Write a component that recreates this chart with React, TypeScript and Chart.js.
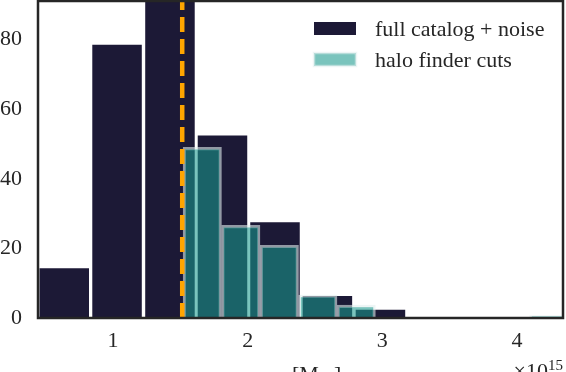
import React, { useEffect, useRef } from "react";
import { Chart, registerables } from "chart.js";

Chart.register(...registerables);

// ---- data ----
const fullBinCenters = [0.638, 1.03, 1.423, 1.813, 2.203, 2.592, 2.986, 3.377, 3.768, 4.159];
const fullCounts = [14.3, 78.5, 96, 52.4, 27.5, 6.3, 2.4, 0, 0, 0];
const cutBinCenters = [1.663, 1.949, 2.235, 2.521, 2.806, 3.092, 3.378, 3.664, 3.95, 4.236];
const cutCounts = [49, 26.6, 20.9, 6.6, 3.7, 0, 0, 0, 0, 0.7];
const xTickValues = [1, 2, 3, 4];
const yTickValues = [0, 20, 40, 60, 80];
const thresholdMass = 1.514;
const seriesLabels = ["full catalog + noise", "halo finder cuts"];
const xAxisLabelMain = "[M";
const xAxisLabelSub = "⊙";
const xAxisLabelEnd = "]";
const offsetBase = "×10";
const offsetExp = "15";

const X_MIN = 0.4431;
const X_MAX = 4.3415;
const Y_MAX = 91.07;

const NAVY = "#1c1936";
const TEAL = "rgba(25,154,141,0.58)";
const TEAL_EDGE = "rgba(225,238,238,0.6)";
const AXIS_COLOR = "#262626";
const FONT = "'Liberation Serif', 'Times New Roman', serif";

const decorPlugin = {
  id: "decor",
  afterDatasetsDraw(chart: any) {
    const { ctx, chartArea } = chart;
    const xs = chart.scales.x;
    const px = xs.getPixelForValue(thresholdMass);
    ctx.save();
    ctx.beginPath();
    ctx.setLineDash([15, 7]);
    ctx.lineDashOffset = 6;
    ctx.lineWidth = 4.5;
    ctx.strokeStyle = "#FFA500";
    ctx.moveTo(px, chartArea.top);
    ctx.lineTo(px, chartArea.bottom);
    ctx.stroke();
    ctx.setLineDash([]);
    ctx.lineWidth = 2.5;
    ctx.strokeStyle = AXIS_COLOR;
    ctx.strokeRect(chartArea.left, chartArea.top, chartArea.right - chartArea.left, chartArea.bottom - chartArea.top);
    ctx.restore();
  },
  afterDraw(chart: any) {
    const { ctx, chartArea } = chart;
    const ds = chart.data.datasets;
    ctx.save();
    const swX = chartArea.right - 249;
    const textX = chartArea.right - 188;
    const rows = [chartArea.top + 21, chartArea.top + 52];
    ctx.font = `22px ${FONT}`;
    ctx.textBaseline = "alphabetic";
    ctx.textAlign = "left";
    ds.forEach((d: any, i: number) => {
      const top = rows[i];
      ctx.fillStyle = d.backgroundColor;
      ctx.fillRect(swX, top, 42, 13);
      if (d.borderWidth) {
        ctx.strokeStyle = d.borderColor;
        ctx.lineWidth = d.borderWidth;
        ctx.strokeRect(swX, top, 42, 13);
      }
      ctx.fillStyle = AXIS_COLOR;
      ctx.fillText(d.label, textX, top + 13.5);
    });
    const lx = chartArea.left + 254;
    const ly = chartArea.bottom + 63;
    ctx.font = `22px ${FONT}`;
    ctx.fillText(xAxisLabelMain, lx, ly);
    let w = ctx.measureText(xAxisLabelMain).width;
    ctx.font = `15px ${FONT}`;
    ctx.fillText(xAxisLabelSub, lx + w, ly + 5);
    w += ctx.measureText(xAxisLabelSub).width + 2;
    ctx.font = `22px ${FONT}`;
    ctx.fillText(xAxisLabelEnd, lx + w, ly);
    ctx.font = `15px ${FONT}`;
    const ew = ctx.measureText(offsetExp).width;
    ctx.textAlign = "right";
    ctx.fillText(offsetExp, chartArea.right, chartArea.bottom + 52);
    ctx.font = `22px ${FONT}`;
    ctx.fillText(offsetBase, chartArea.right - ew, chartArea.bottom + 60);
    ctx.restore();
  },
};

export default function App() {
  const ref = useRef<HTMLCanvasElement | null>(null);
  useEffect(() => {
    if (!ref.current) return;
    const chart = new Chart(ref.current, {
      type: "bar",
      data: {
        datasets: [
          {
            label: seriesLabels[0],
            data: fullBinCenters.map((x, i) => ({ x, y: fullCounts[i] })),
            xAxisID: "x",
            backgroundColor: NAVY,
            borderWidth: 0,
            barPercentage: 0.945,
            categoryPercentage: 1,
            grouped: false,
            order: 2,
          } as any,
          {
            label: seriesLabels[1],
            data: cutBinCenters.map((x, i) => ({ x, y: cutCounts[i] })),
            xAxisID: "x2",
            backgroundColor: TEAL,
            borderColor: TEAL_EDGE,
            borderWidth: 2.5,
            barPercentage: 1,
            categoryPercentage: 1,
            grouped: false,
            order: 1,
          } as any,
        ],
      },
      options: {
        responsive: false,
        animation: false,
        events: [],
        layout: { padding: { left: 0, top: 1, right: 3, bottom: 0 } },
        plugins: { legend: { display: false }, tooltip: { enabled: false } },
        scales: {
          x: {
            type: "linear",
            position: "bottom",
            min: X_MIN,
            max: X_MAX,
            offset: false,
            grid: { display: false, drawTicks: false },
            border: { display: false },
            ticks: {
              font: { family: FONT, size: 22 },
              color: AXIS_COLOR,
              padding: 10,
              autoSkip: false,
              maxRotation: 0,
              callback: (v: any) => String(v),
            },
            afterBuildTicks: (s: any) => {
              s.ticks = xTickValues.map((v) => ({ value: v }));
            },
            afterFit: (s: any) => {
              s.height = 54;
              s.paddingLeft = 0;
              s.paddingRight = 0;
              s.paddingTop = 0;
              s.paddingBottom = 0;
            },
          },
          x2: {
            type: "linear",
            position: "bottom",
            display: false,
            min: X_MIN,
            max: X_MAX,
            offset: false,
          },
          y: {
            type: "linear",
            min: 0,
            max: Y_MAX,
            grid: { display: false, drawTicks: false },
            border: { display: false },
            ticks: {
              font: { family: FONT, size: 22 },
              color: AXIS_COLOR,
              padding: 16,
              callback: (v: any) => String(v),
            },
            afterBuildTicks: (s: any) => {
              s.ticks = yTickValues.map((v) => ({ value: v }));
            },
            afterFit: (s: any) => {
              s.width = 38;
              s.paddingLeft = 0;
              s.paddingRight = 0;
              s.paddingTop = 0;
              s.paddingBottom = 0;
            },
          },
        },
      } as any,
      plugins: [decorPlugin],
    });
    return () => chart.destroy();
  }, []);
  return (
    <div style={{ position: "fixed", left: 0, top: 0, width: 566, height: 372, background: "#fff" }}>
      <canvas ref={ref} width={566} height={372} style={{ display: "block" }} />
    </div>
  );
}
